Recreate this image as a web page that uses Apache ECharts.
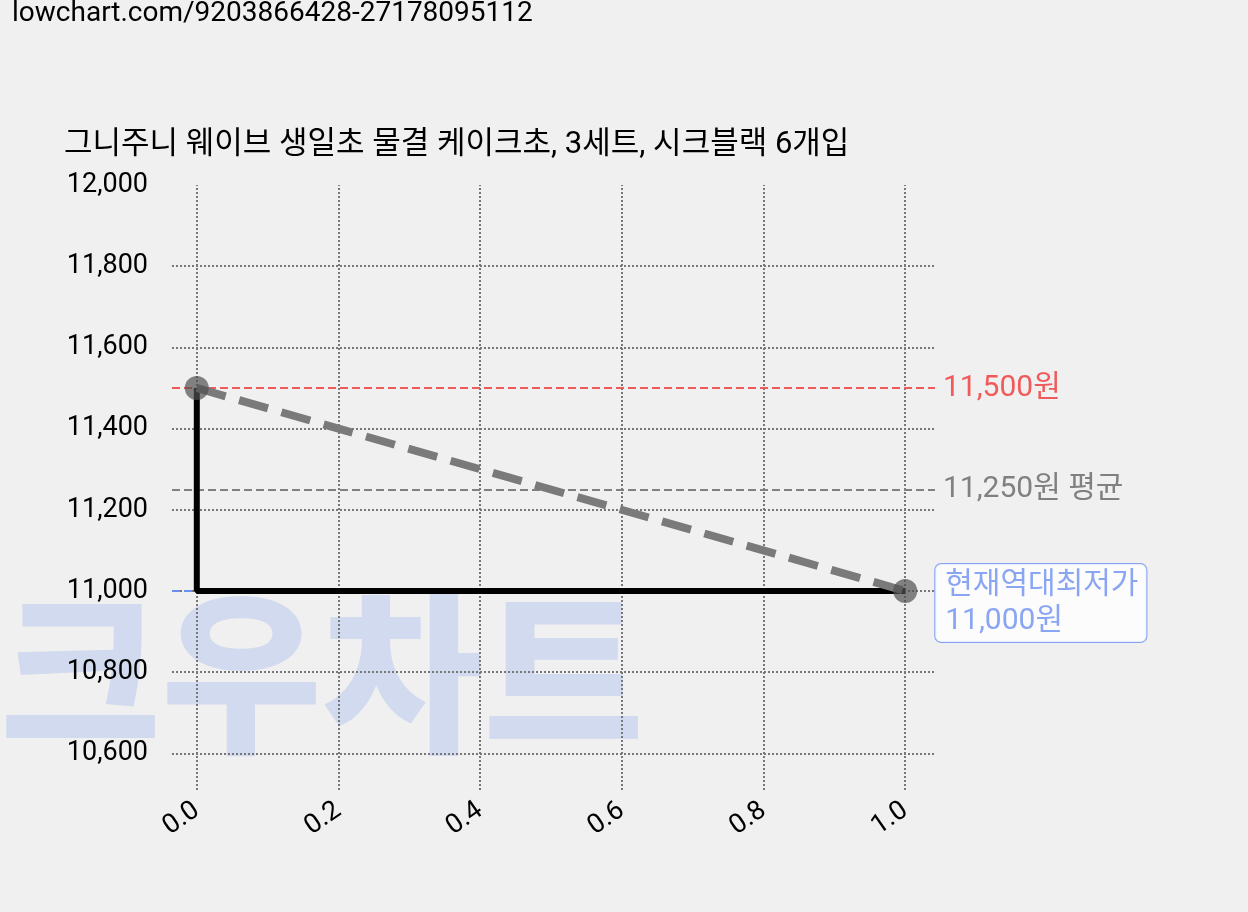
<!DOCTYPE html><html><head><meta charset="utf-8"><script src="https://cdn.jsdelivr.net/npm/echarts@6/dist/echarts.min.js"></script>
<style>body{margin:0;background:#f0f0f0}#c{width:1248px;height:912px}</style></head><body><div id="c"></div><script>
const xTicks=[0,0.2,0.4,0.6,0.8,1.0];
const yTicks=[10600,10800,11000,11200,11400,11600,11800,12000];
const stepX=[0,0,1], stepY=[11500,11000,11000];
const trendX=[0,1], trendY=[11500,11000];
const maxPrice=11500, avgPrice=11250, minPrice=11000;
const F='Roboto,"Noto Sans CJK KR",sans-serif';
const gridLines=[...xTicks.map(v=>({xAxis:v})),...yTicks.filter(v=>v<12000).map(v=>({yAxis:v}))];
const c=echarts.init(document.getElementById('c'));
c.setOption({backgroundColor:'#f0f0f0',animation:false,
graphic:[{type:'text',left:12,top:0,style:{text:'lowchart.com/9203866428-27178095112',font:'28px '+F,fill:'#000'}},
{type:'text',left:64,top:130,style:{text:'그니주니 웨이브 생일초 물결 케이크초, 3세트, 시크블랙 6개입',font:'31px '+F,fill:'#000'}},
{type:'text',left:0,top:585,z:-1,style:{text:'크우차트',font:'900 175px "Noto Sans CJK KR",sans-serif',fill:'rgba(100,140,230,0.22)'}}],
grid:{left:172,right:313,top:185,bottom:122},
xAxis:{type:'value',min:-0.035,max:1.042,axisLine:{show:false},axisTick:{show:false},splitLine:{show:false},
axisLabel:{customValues:xTicks,rotate:35,fontSize:27,color:'#000',fontFamily:F,margin:18,formatter:v=>v.toFixed(1)}},
yAxis:{type:'value',min:10510,max:12000,axisLine:{show:false},axisTick:{show:false},splitLine:{show:false},
axisLabel:{customValues:yTicks,fontSize:27,color:'#000',fontFamily:F,margin:24,formatter:v=>v.toLocaleString('en-US')}},
series:[
{type:'line',data:[],z:1,markLine:{silent:true,symbol:'none',z:1,label:{show:false},lineStyle:{type:'dotted',color:'#777',width:2},data:gridLines}},
{type:'line',data:stepX.map((x,i)=>[x,stepY[i]]),showSymbol:false,lineStyle:{color:'#000',width:6},z:5,
markLine:{silent:true,symbol:'none',z:2,lineStyle:{type:'dashed',width:2},data:[
{yAxis:maxPrice,lineStyle:{color:'#f05a5a'},label:{formatter:'11,500원',color:'#f05a5a',fontSize:30,fontFamily:F,distance:8}},
{yAxis:avgPrice,lineStyle:{color:'#808080'},label:{formatter:'11,250원 평균',color:'#808080',fontSize:30,fontFamily:F,distance:8}},
[{coord:[-0.035,minPrice],lineStyle:{color:'#6b8ff0'},label:{show:false}},{coord:[1.0,minPrice]}]]}},
{type:'line',data:trendX.map((x,i)=>[x,trendY[i]]),symbol:'circle',symbolSize:24,itemStyle:{color:'rgba(80,80,80,0.7)'},lineStyle:{color:'#7a7a7a',width:8,type:[30,14]},z:6},
{type:'scatter',data:[[1.0,minPrice]],symbolSize:0,z:7,label:{show:true,position:'right',distance:30,formatter:'현재역대최저가\n11,000원',color:'#6b8ff0',fontSize:30,fontFamily:F,lineHeight:36,backgroundColor:'#fff',borderColor:'#6b8ff0',borderWidth:1,borderRadius:6,padding:[2,8,4,10],offset:[0,12]}}
]});
</script></body></html>
